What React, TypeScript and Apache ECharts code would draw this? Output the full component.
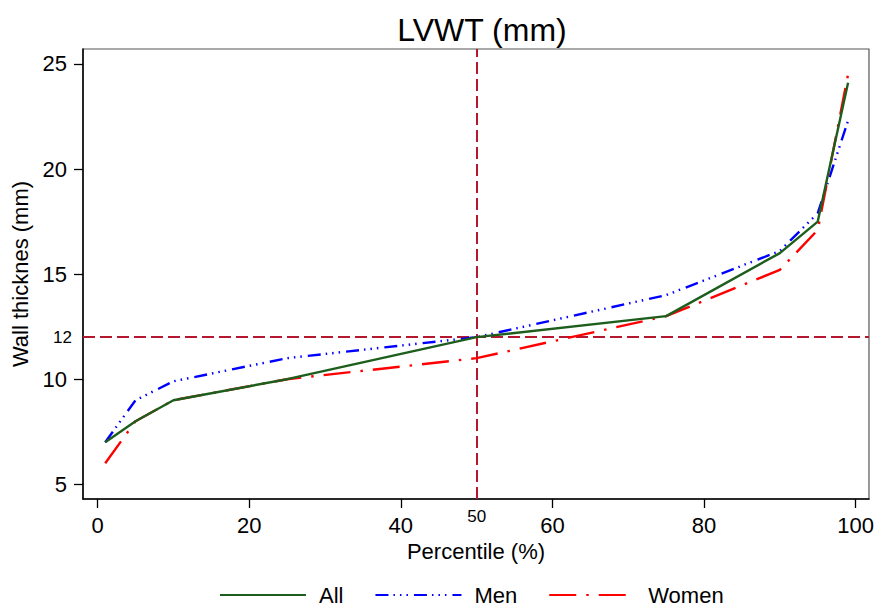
import React, { useEffect, useRef } from "react";
import * as echarts from "echarts";

const percentiles = [1, 5, 10, 25, 50, 75, 90, 95, 99];
const allValues = [7.0, 8.0, 9.0, 10.0, 12.0, 13.0, 16.0, 17.5, 24.1];
const menValues = [7.0, 9.0, 9.9, 11.0, 12.0, 14.0, 16.1, 17.9, 22.3];
const womenValues = [6.0, 8.0, 9.0, 10.0, 11.0, 13.0, 15.2, 17.1, 24.5];
const xTicks = [0, 20, 40, 60, 80, 100];
const xLabels = [0, 20, 40, 50, 60, 80, 100];
const yTicks = [5, 10, 15, 20, 25];
const yLabels = [5, 10, 12, 15, 20, 25];
const refX = 50;
const refY = 12;

const FONT = "'Liberation Sans', Arial, sans-serif";

function pairs(vals: number[]) {
  return percentiles.map((p, i) => [p, vals[i]]);
}

export default function App() {
  const ref = useRef<HTMLDivElement>(null);
  useEffect(() => {
    if (!ref.current) return;
    const chart = echarts.init(ref.current, undefined, { renderer: "svg" });
    chart.setOption({
      animation: false,
      backgroundColor: "#fff",
      textStyle: { fontFamily: FONT, color: "#000" },
      title: {
        text: "LVWT (mm)",
        left: 477,
        top: 9,
        textAlign: "center",
        textStyle: { fontFamily: FONT, fontSize: 32, fontWeight: "normal", color: "#000" },
      },
      legend: {
        left: 214,
        top: 579,
        itemWidth: 86,
        itemHeight: 14,
        itemGap: 31,
        itemStyle: { opacity: 0 },
        textStyle: { fontFamily: FONT, fontSize: 22, lineHeight: 22, color: "#000", padding: [0, 0, 0, 8] },
        data: ["All", "Men", "Women"],
      },
      grid: {
        left: 83,
        right: 5,
        top: 49,
        bottom: 107,
        show: true,
        borderColor: "#555",
        borderWidth: 1.2,
        backgroundColor: "#fff",
      },
      xAxis: {
        type: "value",
        min: -1.93,
        max: 101.76,
        name: "Percentile (%)",
        nameLocation: "middle",
        nameGap: 38,
        nameTextStyle: { fontFamily: FONT, fontSize: 22, color: "#000" },
        axisLine: { show: true, onZero: false, lineStyle: { color: "#000", width: 1.5 } },
        axisTick: { show: true, length: 9, customValues: xTicks, lineStyle: { color: "#000", width: 1.3 } },
        axisLabel: {
          customValues: xLabels,
          margin: 9,
          formatter: (v: number) => (v === refX ? "{s|" + v + "}" : "{n|" + v + "}"),
          rich: {
            n: { fontFamily: FONT, fontSize: 22, color: "#000", padding: [6, 0, 0, 0] },
            s: { fontFamily: FONT, fontSize: 17, color: "#000" },
          },
        },
        splitLine: { show: false },
      },
      yAxis: {
        type: "value",
        min: 4.3,
        max: 25.71,
        name: "Wall thicknes (mm)",
        nameLocation: "middle",
        nameGap: 48,
        nameTextStyle: { fontFamily: FONT, fontSize: 22, color: "#000" },
        axisLine: { show: true, onZero: false, lineStyle: { color: "#000", width: 1.5 } },
        axisTick: { show: true, length: 9, customValues: yTicks, lineStyle: { color: "#000", width: 1.3 } },
        axisLabel: {
          customValues: yLabels,
          margin: 11,
          formatter: (v: number) => (v === refY ? "{s|" + v + "}" : "{n|" + v + "}"),
          rich: {
            n: { fontFamily: FONT, fontSize: 22, color: "#000", padding: [0, 5, 0, 0] },
            s: { fontFamily: FONT, fontSize: 17, color: "#000" },
          },
        },
        splitLine: { show: false },
      },
      series: [
        {
          name: "All",
          type: "line",
          data: pairs(allValues),
          symbol: "none",
          z: 4,
          lineStyle: { color: "#1d5e1d", width: 2.4, type: "solid" },
          itemStyle: { color: "#1d5e1d" },
          markLine: {
            silent: true,
            symbol: "none",
            label: { show: false },
            lineStyle: { color: "#b5182e", width: 2, type: [12, 5] },
            data: [{ xAxis: refX }, { yAxis: refY }],
            z: 1,
          },
        },
        {
          name: "Men",
          type: "line",
          data: pairs(menValues),
          symbol: "none",
          z: 3,
          lineStyle: { color: "#0000ff", width: 2.4, type: [13, 5, 1.5, 5, 1.5, 5, 1.5, 6] },
          itemStyle: { color: "#0000ff" },
        },
        {
          name: "Women",
          type: "line",
          data: pairs(womenValues),
          symbol: "none",
          z: 3,
          lineStyle: { color: "#ff0000", width: 2.4, type: [27, 10, 2.5, 10] },
          itemStyle: { color: "#ff0000" },
        },
      ],
    });
    return () => chart.dispose();
  }, []);
  return <div ref={ref} style={{ position: "fixed", left: 0, top: 0, width: 877, height: 606 }} />;
}
